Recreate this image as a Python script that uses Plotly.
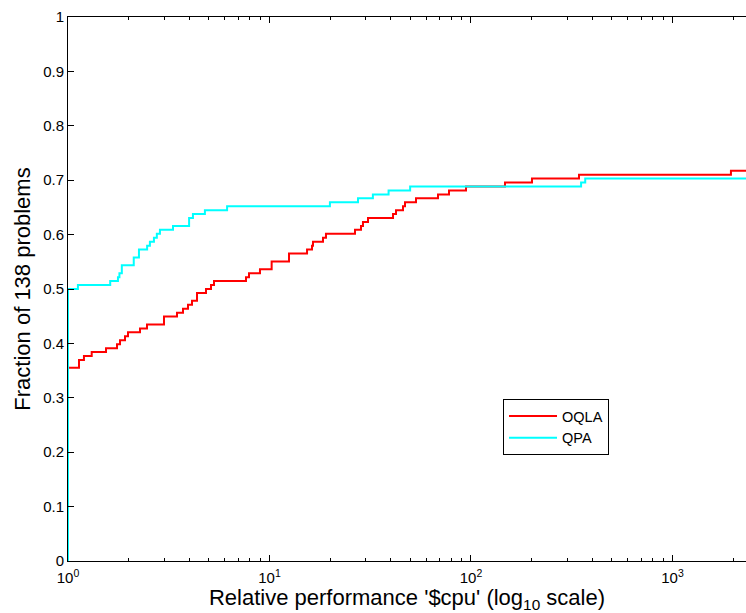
import plotly.graph_objects as go

n_problems = 138

# OQLA (red) performance profile: step positions (ratio) and problem counts solved
oqla_x = [1, 1, 1.134, 1.200, 1.311, 1.544, 1.751, 1.812, 1.918, 1.985, 2.277, 2.466,
          2.995, 3.475, 3.722, 3.940, 4.125, 4.368, 4.840, 5.125, 5.304, 7.645, 7.912,
          8.97, 10.25, 12.50, 15.36, 16.26, 16.44, 18.43, 19.07, 26.57, 28.46, 29.11,
          30.83, 41.03, 42.46, 45.98, 47.05, 53.34, 68.6, 77.8, 94.5, 147.5, 200.8,
          343.6, 1951, 2320]
oqla_n = [0, 49, 51, 52, 53, 54, 55, 56, 57, 58, 59, 60,
          62, 63, 64, 65, 66, 68, 69, 70, 71, 72, 73,
          74, 76, 78, 79, 80, 81, 82, 83, 84, 85, 86,
          87, 88, 89, 90, 91, 92, 93, 94, 95, 96, 97,
          98, 99, 99]

# QPA (cyan)
qpa_x = [1, 1, 1.12, 1.62, 1.77, 1.80, 1.85, 2.12, 2.25, 2.47, 2.55, 2.67, 2.76,
         2.86, 3.32, 3.99, 4.17, 4.78, 6.16, 19.95, 27.5, 32.6, 39.0, 49.9, 352,
         369, 2320]
qpa_n = [0, 69, 70, 71, 72, 73, 75, 77, 79, 80, 81, 82, 83,
         84, 85, 87, 88, 89, 90, 91, 92, 93, 94, 95, 96,
         97, 97]

y_ticks = [0, 0.1, 0.2, 0.3, 0.4, 0.5, 0.6, 0.7, 0.8, 0.9, 1]
y_ticklabels = ["0", "0.1", "0.2", "0.3", "0.4", "0.5", "0.6", "0.7", "0.8", "0.9", "1"]
x_ticks = [1, 10, 100, 1000]
x_ticklabels = ["10<sup>0</sup>", "10<sup>1</sup>", "10<sup>2</sup>", "10<sup>3</sup>"]
x_minor = [m * d for d in (1, 10, 100, 1000) for m in range(2, 10)]

FONT = "Liberation Sans, Arial, sans-serif"

fig = go.Figure()
fig.add_trace(go.Scatter(x=oqla_x, y=[v / n_problems for v in oqla_n], mode="lines",
                         line=dict(color="#ff0000", width=2, shape="hv"), name="OQLA"))
fig.add_trace(go.Scatter(x=qpa_x, y=[v / n_problems for v in qpa_n], mode="lines",
                         line=dict(color="#00ffff", width=2, shape="hv"), name="QPA"))

fig.update_layout(
    width=746, height=613,
    margin=dict(l=68, r=0, t=17, b=52),
    paper_bgcolor="white", plot_bgcolor="white",
    font=dict(family=FONT, size=15, color="black"),
    showlegend=True,
    legend=dict(x=0.6416, y=0.2978, xanchor="left", yanchor="top",
                bordercolor="black", borderwidth=1, bgcolor="white",
                font=dict(family=FONT, size=14.5, color="black"),
                itemwidth=48, tracegroupgap=0),
    xaxis=dict(type="log", range=[0, 3.365], showgrid=False, zeroline=False,
               showline=True, linecolor="black", linewidth=1, mirror="ticks",
               ticks="inside", ticklen=6, tickcolor="black",
               tickmode="array", tickvals=x_ticks, ticktext=x_ticklabels,
               tickfont=dict(family=FONT, size=15), ticklabelstandoff=3,
               minor=dict(ticks="inside", ticklen=3, tickcolor="black",
                          tickmode="array", tickvals=x_minor, showgrid=False),
               title=dict(text="Relative performance '$cpu' (log<sub>10</sub> scale)",
                          font=dict(family=FONT, size=22), standoff=4),
               automargin=False),
    yaxis=dict(range=[0, 1], showgrid=False, zeroline=False,
               showline=True, linecolor="black", linewidth=1,
               ticks="inside", ticklen=6, tickcolor="black",
               tickmode="array", tickvals=y_ticks, ticktext=y_ticklabels,
               tickfont=dict(family=FONT, size=15),
               title=dict(text="Fraction of 138 problems",
                          font=dict(family=FONT, size=22), standoff=6),
               automargin=False),
)

fig.write_html("out.html")
